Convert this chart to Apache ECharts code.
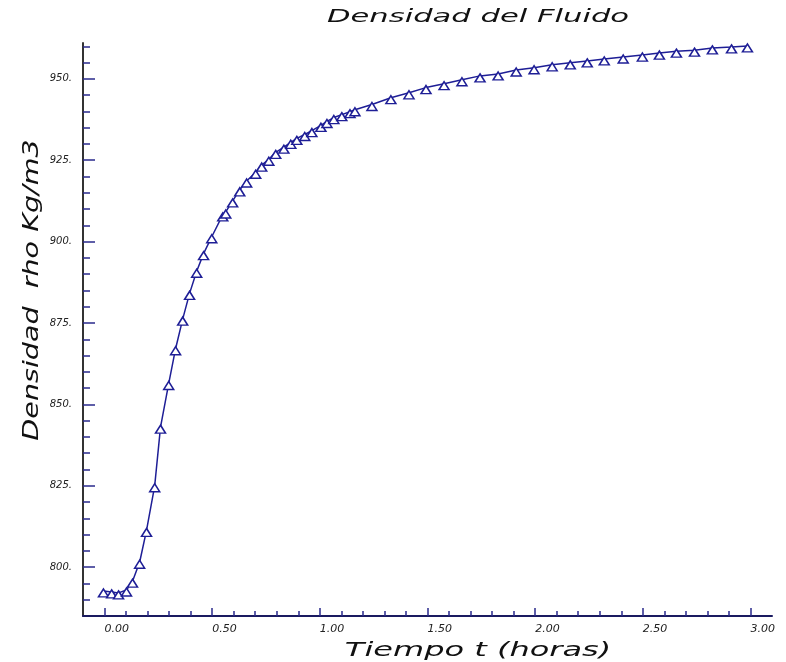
<!DOCTYPE html>
<html>
<head>
<meta charset="utf-8">
<script src="https://cdn.jsdelivr.net/npm/echarts@6/dist/echarts.min.js"></script>
<style>
  html, body { margin: 0; padding: 0; background: #fff; }
  #chart { width: 786px; height: 662px; }
</style>
</head>
<body>
<div id="chart"></div>
<script>
// tiempo (horas)
var tiempo = [-0.005, 0.033, 0.065, 0.102, 0.130, 0.163, 0.195, 0.233, 0.260, 0.298,
  0.330, 0.363, 0.395, 0.428, 0.460, 0.498, 0.549, 0.563, 0.595, 0.628,
  0.660, 0.702, 0.730, 0.763, 0.795, 0.833, 0.865, 0.893, 0.930, 0.963,
  1.005, 1.033, 1.065, 1.102, 1.140, 1.163, 1.242, 1.330, 1.414, 1.493,
  1.577, 1.660, 1.744, 1.828, 1.912, 1.995, 2.079, 2.163, 2.242, 2.321,
  2.409, 2.498, 2.577, 2.656, 2.740, 2.823, 2.912, 2.986];
// densidad rho (Kg/m3)
var densidad = [792.7, 792.4, 792.1, 793.0, 795.7, 801.5, 811.3, 825.0, 843.0, 856.4,
  867.1, 876.2, 884.1, 890.9, 896.3, 901.5, 908.2, 909.1, 912.5, 915.9,
  918.6, 921.3, 923.5, 925.3, 927.4, 929.0, 930.5, 931.7, 932.9, 934.1,
  935.7, 936.9, 938.1, 939.0, 939.9, 940.5, 942.1, 944.2, 945.7, 947.3,
  948.5, 949.7, 950.9, 951.5, 952.7, 953.4, 954.3, 954.9, 955.5, 956.1,
  956.7, 957.3, 957.9, 958.5, 958.8, 959.5, 959.8, 960.1];

var xTicks = [0, 0.5, 1.0, 1.5, 2.0, 2.5, 3.0];
var yTicks = [800, 825, 850, 875, 900, 925, 950];

var xMinor = [];
for (var i = 1; i <= 30; i++) { if (i % 5) xMinor.push(i / 10); }
var yMinor = [];
for (var v = 790; v <= 960; v += 5) { if (v % 25) yMinor.push(v); }

var azul = '#1e1e96';
var tickColor = '#2a2a8c';

var points = tiempo.map(function (t, i) { return [t, densidad[i]]; });

var chart = echarts.init(document.getElementById('chart'));

var option = {
  backgroundColor: '#fff',
  animation: false,
  grid: { left: 83, right: 14, top: 43, bottom: 46 },
  graphic: [
    {
      type: 'text', x: 478, y: 18, scaleX: 1.8,
      style: { text: 'Densidad del Fluido', font: 'italic 17px "DejaVu Sans"', fill: '#111',
        textAlign: 'center', textVerticalAlign: 'middle' }
    },
    {
      type: 'text', x: 478, y: 651, scaleX: 1.6,
      style: { text: 'Tiempo t (horas)', font: 'italic 20px "DejaVu Sans"', fill: '#111',
        textAlign: 'center', textVerticalAlign: 'middle' }
    },
    {
      type: 'text', x: 33, y: 290, rotation: Math.PI / 2, scaleX: 1.36,
      style: { text: 'Densidad  rho Kg/m3', font: 'italic 21px "DejaVu Sans"', fill: '#111',
        textAlign: 'center', textVerticalAlign: 'middle' }
    }
  ],
  xAxis: [
    {
      type: 'value', min: -0.1, max: 3.1, position: 'bottom',
      axisLine: { show: true, onZero: false, lineStyle: { color: '#1a1a60', width: 2 } },
      axisTick: { show: true, inside: true, length: 8, customValues: xTicks,
        lineStyle: { color: tickColor, width: 1.5 } },
      axisLabel: { customValues: xTicks, align: 'left', margin: 8, color: '#222',
        fontFamily: 'DejaVu Sans', fontSize: 11, fontStyle: 'italic',
        formatter: function (v) { return v.toFixed(2); } },
      splitLine: { show: false }
    },
    {
      type: 'value', min: -0.1, max: 3.1, position: 'bottom',
      axisLine: { show: false, onZero: false },
      axisTick: { show: true, inside: true, length: 5, customValues: xMinor,
        lineStyle: { color: tickColor, width: 1.5 } },
      axisLabel: { show: false },
      splitLine: { show: false }
    }
  ],
  yAxis: [
    {
      type: 'value', min: 785, max: 961, position: 'left',
      axisLine: { show: true, onZero: false, lineStyle: { color: '#333', width: 2 } },
      axisTick: { show: true, inside: true, length: 12, customValues: yTicks,
        lineStyle: { color: tickColor, width: 1.5 } },
      axisLabel: { customValues: yTicks, margin: 11, color: '#222', padding: [9, 0, 0, 0],
        fontFamily: 'DejaVu Sans', fontSize: 10, fontStyle: 'italic',
        formatter: function (v) { return v + '.'; } },
      splitLine: { show: false }
    },
    {
      type: 'value', min: 785, max: 961, position: 'left',
      axisLine: { show: false, onZero: false },
      axisTick: { show: true, inside: true, length: 7, customValues: yMinor,
        lineStyle: { color: tickColor, width: 1.5 } },
      axisLabel: { show: false },
      splitLine: { show: false }
    }
  ],
  series: [
    {
      type: 'line',
      data: points,
      xAxisIndex: 0,
      yAxisIndex: 0,
      symbol: 'triangle',
      symbolSize: [10, 8],
      symbolOffset: [0, 2],
      showAllSymbol: true,
      lineStyle: { color: azul, width: 1.5 },
      itemStyle: { color: '#fff', borderColor: azul, borderWidth: 1.5 }
    }
  ]
};

chart.setOption(option);
</script>
</body>
</html>
